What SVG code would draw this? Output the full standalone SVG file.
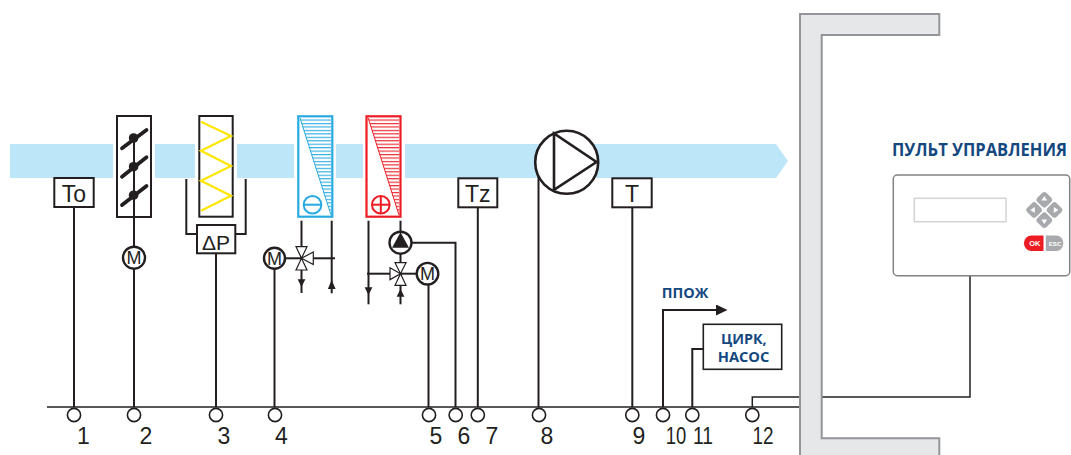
<svg xmlns="http://www.w3.org/2000/svg" width="1071" height="455" viewBox="0 0 1071 455">
  <style>
    .ln { stroke: #231f20; stroke-width: 2; fill: none; }
    .thin { stroke: #231f20; stroke-width: 1.5; fill: none; }
    .box { fill: #ffffff; stroke: #231f20; stroke-width: 2; }
    .mot { fill: #ffffff; stroke: #231f20; stroke-width: 2.4; }
    .term { fill: #ffffff; stroke: #231f20; stroke-width: 1.6; }
    .vt { fill: #ffffff; stroke: #231f20; stroke-width: 1.2; }
    .blk { fill: #231f20; }
    .band { fill: #bde6f8; }
    .lbl { font-family: "Liberation Sans Narrow", "Liberation Sans", sans-serif; fill: #231f20; text-anchor: middle; }
    .num { font-size: 23px; }
    .mtxt { font-size: 18px; }
    .blue { font-family: "Open Sans", "Liberation Sans", sans-serif; font-weight: 700; fill: #14487f; }
  </style>
  <defs>
    <pattern id="hatchCool" patternUnits="userSpaceOnUse" x="0" y="119.5" width="6" height="3.45">
      <line x1="0" y1="0.6" x2="6" y2="0.6" stroke="#27aae1" stroke-width="1.1"/>
    </pattern>
    <pattern id="hatchHeat" patternUnits="userSpaceOnUse" x="0" y="119.5" width="6" height="3.45">
      <line x1="0" y1="0.6" x2="6" y2="0.6" stroke="#ed1c24" stroke-width="1.1"/>
    </pattern>
    <marker id="arrowHead" markerWidth="12" markerHeight="12" refX="0" refY="5.5" orient="auto" markerUnits="userSpaceOnUse">
      <path d="M0,0 L11.5,5.5 L0,11 Z" fill="#231f20"/>
    </marker>
  </defs>

  <!-- air duct flow band -->
  <g id="airflow">
    <rect class="band" x="10" y="144" width="103" height="34"/>
    <rect class="band" x="155" y="144" width="40" height="34"/>
    <rect class="band" x="237" y="144" width="57" height="34"/>
    <rect class="band" x="336" y="144" width="27" height="34"/>
    <path class="band" d="M405,144 H776 L788,161 L776,178 H405 Z"/>
  </g>

  <!-- connectors -->
  <g id="connectors">
    <!-- bus -->
    <line class="thin" x1="47" y1="407" x2="800" y2="407"/>
    <!-- 12 to control panel -->
    <path class="thin" d="M752.3,407 V397 H970 V276"/>
    <line class="ln" x1="74" y1="207" x2="74" y2="407"/>
    <line class="ln" x1="134" y1="269" x2="134" y2="407"/>
    <line class="ln" x1="216" y1="253" x2="216" y2="407"/>
    <line class="ln" x1="274.5" y1="269" x2="274.5" y2="407"/>
    <line class="ln" x1="428.5" y1="284.5" x2="428.5" y2="407"/>
    <path class="ln" d="M411.5,242.7 H455.5 V407"/>
    <line class="ln" x1="477.8" y1="207" x2="477.8" y2="407"/>
    <line class="ln" x1="538.5" y1="176" x2="538.5" y2="407"/>
    <line class="ln" x1="632.3" y1="207" x2="632.3" y2="407"/>
    <path class="ln" d="M663,407 V310 H716" marker-end="url(#arrowHead)"/>
    <path class="ln" d="M692.3,407 V349 H703.3"/>
  </g>

  <!-- terminals -->
  <g id="terminals">
    <circle class="term" cx="74" cy="415" r="6.6"/>
    <circle class="term" cx="134" cy="415" r="6.6"/>
    <circle class="term" cx="216" cy="415" r="6.6"/>
    <circle class="term" cx="275" cy="415" r="6.6"/>
    <circle class="term" cx="429" cy="415" r="6.6"/>
    <circle class="term" cx="455.7" cy="415" r="6.6"/>
    <circle class="term" cx="477.8" cy="415" r="6.6"/>
    <circle class="term" cx="539" cy="415" r="6.6"/>
    <circle class="term" cx="632.3" cy="415" r="6.6"/>
    <circle class="term" cx="663" cy="415" r="6.6"/>
    <circle class="term" cx="692.3" cy="415" r="6.6"/>
    <circle class="term" cx="752.3" cy="415" r="6.6"/>
    <g class="lbl num">
      <text x="83.3" y="444">1</text>
      <text x="145.8" y="444">2</text>
      <text x="223.8" y="444">3</text>
      <text x="281.5" y="444">4</text>
      <text x="436" y="444">5</text>
      <text x="464" y="444">6</text>
      <text x="492" y="444">7</text>
      <text x="547" y="444">8</text>
      <text x="639" y="444">9</text>
      <text x="676" y="444" textLength="20.5" lengthAdjust="spacingAndGlyphs">10</text>
      <text x="703" y="444" textLength="20" lengthAdjust="spacingAndGlyphs">11</text>
      <text x="763" y="444" textLength="21" lengthAdjust="spacingAndGlyphs">12</text>
    </g>
  </g>

  <!-- outdoor temperature sensor -->
  <g id="sensor-to">
    <rect class="box" x="54.3" y="178" width="39.4" height="29"/>
    <text class="lbl num" x="74" y="201.7">To</text>
  </g>

  <!-- air damper with actuator -->
  <g id="damper">
    <rect class="box" x="117" y="116" width="34" height="101"/>
    <line class="ln" x1="134" y1="137.7" x2="134" y2="247"/>
    <g stroke="#231f20" stroke-width="3.8" stroke-linecap="round">
      <line x1="122" y1="148.3" x2="146.5" y2="130"/>
      <line x1="122" y1="176.7" x2="146.5" y2="157.3"/>
      <line x1="122" y1="205" x2="146.5" y2="186"/>
    </g>
    <circle class="blk" cx="133.6" cy="138" r="4.8"/>
    <circle class="blk" cx="133.6" cy="166.7" r="4.8"/>
    <circle class="blk" cx="133.6" cy="195.2" r="4.8"/>
    <circle class="mot" cx="134" cy="257.7" r="11"/>
    <text class="lbl mtxt" x="134" y="264.2">M</text>
  </g>

  <!-- filter with differential pressure switch -->
  <g id="filter">
    <rect class="box" x="199.3" y="116" width="33.4" height="100.7"/>
    <polyline points="201,121.7 231,136 201,150.7 231,166 201,180.7 231,195.7 201,210.7" fill="none" stroke="#ffe600" stroke-width="2.2"/>
    <path class="ln" d="M186.3,179 V234 H197 M245.7,179 V234 H235"/>
    <rect class="box" x="197" y="225" width="38.3" height="28.3"/>
    <text class="lbl" x="216" y="250" font-size="21">ΔP</text>
  </g>

  <!-- water cooler with mixing valve -->
  <g id="cooler">
    <rect x="298.3" y="116.3" width="34" height="100.4" fill="#ffffff" stroke="#27aae1" stroke-width="2.2"/>
    <polygon points="300,118 331,118 331,215" fill="url(#hatchCool)"/>
    <line x1="300" y1="118" x2="331" y2="215" stroke="#27aae1" stroke-width="1"/>
    <circle cx="312.5" cy="204.7" r="8.8" fill="#ffffff" stroke="#27aae1" stroke-width="2"/>
    <line x1="304" y1="204.7" x2="321" y2="204.7" stroke="#27aae1" stroke-width="2"/>
    <line class="ln" x1="301.5" y1="220.7" x2="301.5" y2="293"/>
    <line class="ln" x1="331.7" y1="220.7" x2="331.7" y2="293.3"/>
    <line class="ln" x1="284.5" y1="258.3" x2="301.5" y2="258.3"/>
    <line class="ln" x1="313.3" y1="258.3" x2="335" y2="258.3"/>
    <polygon class="vt" points="296,246.7 307,246.7 301.5,258.3"/>
    <polygon class="vt" points="296,270 307,270 301.5,258.3"/>
    <polygon class="vt" points="313.3,252 313.3,264.6 301.5,258.3"/>
    <polygon class="blk" points="297.6,279.3 305.4,279.3 301.5,287"/>
    <polygon class="blk" points="327.8,289 335.6,289 331.7,280"/>
    <circle class="mot" cx="274.5" cy="258.3" r="10.5"/>
    <text class="lbl mtxt" x="274.5" y="264.8">M</text>
  </g>

  <!-- water heater with circulation pump and mixing valve -->
  <g id="heater">
    <rect x="366.5" y="116.3" width="34" height="100.4" fill="#ffffff" stroke="#ed1c24" stroke-width="2.2"/>
    <polygon points="368.2,118 399,118 399,215" fill="url(#hatchHeat)"/>
    <line x1="368.2" y1="118" x2="399" y2="215" stroke="#ed1c24" stroke-width="1"/>
    <circle cx="380.8" cy="204.7" r="8.8" fill="#ffffff" stroke="#ed1c24" stroke-width="2"/>
    <line x1="372" y1="204.7" x2="389.6" y2="204.7" stroke="#ed1c24" stroke-width="2"/>
    <line x1="380.8" y1="196" x2="380.8" y2="213.4" stroke="#ed1c24" stroke-width="2"/>
    <line class="ln" x1="368.5" y1="220.7" x2="368.5" y2="304.3"/>
    <line class="ln" x1="400.5" y1="220.7" x2="400.5" y2="304.3"/>
    <line class="ln" x1="367" y1="273.7" x2="390" y2="273.7"/>
    <line class="ln" x1="400.5" y1="273.7" x2="417" y2="273.7"/>
    <circle class="mot" cx="400.5" cy="242.7" r="11"/>
    <polygon class="blk" points="400.5,232.3 392,247.8 409,247.8"/>
    <polygon class="vt" points="395,262.7 406,262.7 400.5,273.7"/>
    <polygon class="vt" points="395,285.3 406,285.3 400.5,273.7"/>
    <polygon class="vt" points="390,267.8 390,279.6 400.5,273.7"/>
    <polygon class="blk" points="364.6,287.3 372.4,287.3 368.5,295"/>
    <polygon class="blk" points="396.6,296.7 404.4,296.7 400.5,289"/>
    <circle class="mot" cx="427.5" cy="273.7" r="10.8"/>
    <text class="lbl mtxt" x="427.5" y="280.2">M</text>
  </g>

  <!-- supply air temperature sensor (frost protection) -->
  <g id="sensor-tz">
    <rect class="box" x="458.3" y="178.3" width="39" height="29"/>
    <text class="lbl num" x="477.8" y="201.7">Tz</text>
  </g>

  <!-- supply fan -->
  <g id="fan">
    <circle cx="566.7" cy="162.3" r="31.5" fill="#ffffff" stroke="#231f20" stroke-width="2.6"/>
    <polygon points="554,133.5 554,189.8 596.5,162" fill="none" stroke="#231f20" stroke-width="2.6" stroke-linejoin="miter"/>
  </g>

  <!-- supply air temperature sensor -->
  <g id="sensor-t">
    <rect class="box" x="612.3" y="178.3" width="39.4" height="29"/>
    <text class="lbl num" x="632" y="201.7">T</text>
  </g>

  <!-- fire alarm output -->
  <g id="fire-output">
    <text class="blue" x="661.7" y="298" font-size="14" textLength="46.6" lengthAdjust="spacingAndGlyphs">ППОЖ</text>
  </g>

  <!-- circulation pump output -->
  <g id="pump-output">
    <rect x="703.3" y="324.3" width="78.4" height="45" fill="#ffffff" stroke="#231f20" stroke-width="1.6"/>
    <text class="blue" x="721" y="344.3" font-size="15" textLength="45.7" lengthAdjust="spacingAndGlyphs">ЦИРК,</text>
    <text class="blue" x="717.7" y="362.3" font-size="15" textLength="51.6" lengthAdjust="spacingAndGlyphs">НАСОС</text>
  </g>

  <!-- building wall -->
  <g id="wall">
    <path d="M800,14 H939.3 V35 H821.7 V438.3 H939.3 V462 H800 Z" fill="#e6e7e8" stroke="#939598" stroke-width="2"/>
  </g>

  <!-- remote control panel -->
  <g id="control-panel">
    <text class="blue" x="892" y="156" font-size="17" textLength="175" lengthAdjust="spacingAndGlyphs">ПУЛЬТ УПРАВЛЕНИЯ</text>
    <rect x="893.3" y="175" width="176.4" height="100.7" rx="4" fill="#ffffff" stroke="#808285" stroke-width="1.5"/>
    <rect x="914.3" y="198.3" width="91.7" height="23.4" fill="#ffffff" stroke="#d1d3d4" stroke-width="1.5"/>
    <g fill="#a7a9ac">
      <rect x="-6.4" y="-6.4" width="12.8" height="12.8" rx="3.2" transform="translate(1044.3 199.8) rotate(45)"/>
      <rect x="-6.4" y="-6.4" width="12.8" height="12.8" rx="3.2" transform="translate(1044.3 220.2) rotate(45)"/>
      <rect x="-6.4" y="-6.4" width="12.8" height="12.8" rx="3.2" transform="translate(1034.1 210) rotate(45)"/>
      <rect x="-6.4" y="-6.4" width="12.8" height="12.8" rx="3.2" transform="translate(1054.5 210) rotate(45)"/>
    </g>
    <g fill="#ffffff">
      <polygon points="1044.3,196 1041.4,200.5 1047.2,200.5"/>
      <polygon points="1044.3,224 1041.4,219.5 1047.2,219.5"/>
      <polygon points="1030.3,210 1034.8,207.1 1034.8,212.9"/>
      <polygon points="1058.3,210 1053.8,207.1 1053.8,212.9"/>
    </g>
    <path d="M1031.5,235.5 H1043.5 V251 H1031.5 A7.6,7.75 0 0 1 1031.5,235.5 Z" fill="#ed1c24"/>
    <path d="M1045.8,251 V235.5 H1056.5 A6.8,7.75 0 0 1 1056.5,251 Z" fill="#a7a9ac"/>
    <text x="1034.8" y="246.3" font-family="Liberation Sans, sans-serif" font-weight="700" font-size="7.5" fill="#ffffff" text-anchor="middle">OK</text>
    <text x="1055" y="246" font-family="Liberation Sans, sans-serif" font-weight="700" font-size="6.2" fill="#ffffff" text-anchor="middle">ESC</text>
  </g>
</svg>
